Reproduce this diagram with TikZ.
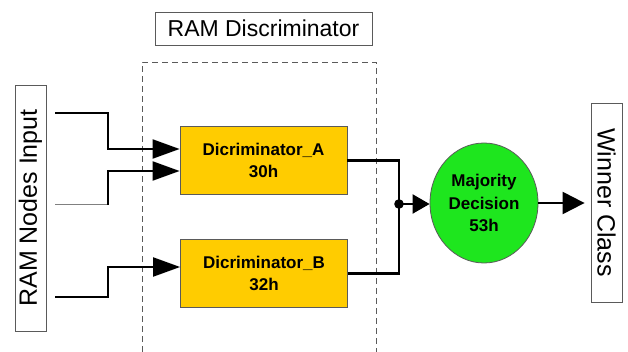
\documentclass[tikz,border=0pt]{standalone}
\usepackage{fontspec}
\setmainfont{Liberation Sans}
\usepackage{xcolor}
\definecolor{discyellow}{RGB}{255, 204, 0}
\definecolor{votegreen}{RGB}{30, 230, 30}
\definecolor{framegray}{RGB}{90, 90, 90}
\usetikzlibrary{arrows.meta, shapes.geometric}

\begin{document}
\begin{tikzpicture}[x=1pt, y=-1pt,
    label box/.style={draw=framegray, line width=0.8pt, inner sep=0pt, font=\fontsize{25}{30}\selectfont},
    disc/.style={draw=framegray, fill=discyellow, line width=0.8pt, minimum width=167pt, minimum height=68pt,
                 align=center, font=\fontsize{17}{22}\selectfont\bfseries},
    wire/.style={line width=2.1pt},
    feed/.style={wire, -{Triangle[length=27pt, width=19pt]}}]
    \useasboundingbox (0,0) rectangle (628,352);

    % discriminator boundary, open at the bottom
    \draw[framegray, line width=0.8pt, dash pattern=on 6pt off 4pt] (142,352) -- (142,62) -- (376,62) -- (376,352);
    \node[label box, minimum width=217pt, minimum height=33pt, font=\fontsize{23}{27}\selectfont] (title) at (263.5,28.5) {RAM Discriminator};

    \node[label box, rotate=90, minimum width=246pt, minimum height=31pt] (inputs) at (30.5,208) {RAM Nodes Input};
    \node[label box, rotate=-90, minimum width=199pt, minimum height=31pt] (winner) at (606.5,202.5) {Winner Class};

    \node[disc] (discA) at (263.5,160.5) {Dicriminator\_A\\30h};
    \node[disc] (discB) at (264,273.5) {Dicriminator\_B\\32h};
    \node[ellipse, draw=framegray, fill=votegreen, line width=0.8pt, minimum width=108pt, minimum height=120pt,
          inner sep=0pt, align=center, font=\fontsize{17}{22.5}\selectfont\bfseries] (vote) at (484,203) {Majority\\Decision\\53h};

    % input lines
    \coordinate (in1) at (55,113);
    \coordinate (in2) at (55,205);
    \coordinate (in3) at (55,297);
    \draw[feed] (in1) -- ++(53,0) |- ([yshift=11.5pt]discA.west);
    \draw[gray, line width=1pt] (in2) -- ++(53,0) coordinate (bend2);
    \draw[feed] (bend2) |- ([yshift=-10.5pt]discA.west);
    \draw[feed] (in3) -- ++(53,0) |- ([yshift=6.5pt]discB.west);

    % outputs merge into the vote
    \coordinate (join) at (399,204);
    \draw[wire] (discA.east) -| (join) |- (discB.east);
    \fill (join) circle (4.8pt);
    \draw[wire, -{Triangle[length=17pt, width=19pt]}] (join) -- (join -| vote.west);
    \draw[wire, -{Triangle[length=22pt, width=22pt]}, shorten >=6pt] (vote.east) -- (vote.east -| winner.south);
\end{tikzpicture}
\end{document}
